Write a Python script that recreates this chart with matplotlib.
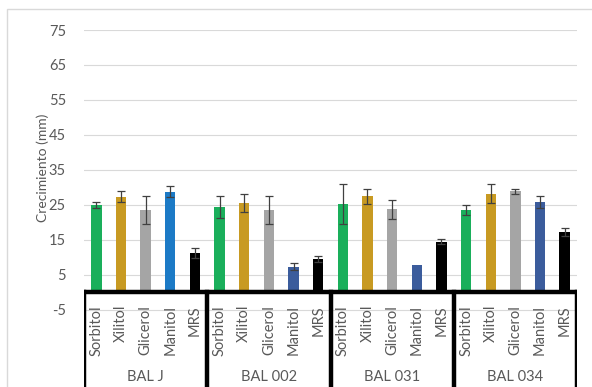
import matplotlib.pyplot as plt
from matplotlib.patches import Rectangle
import numpy as np

plt.rcParams['font.family'] = ['Lato', 'DejaVu Sans']

groups = ['BAL J', 'BAL 002', 'BAL 031', 'BAL 034']
items = ['Sorbitol', 'Xilitol', 'Glicerol', 'Manitol', 'MRS']

# growth (mm) per group, in item order
values = [
    [25.0, 27.3, 23.4, 28.7, 11.2],
    [24.4, 25.4, 23.4, 7.3, 9.4],
    [25.3, 27.4, 23.7, 7.9, 14.4],
    [23.5, 28.2, 28.9, 25.8, 17.2],
]
errors = [
    [0.8, 1.6, 4.0, 1.6, 1.4],
    [3.1, 2.6, 4.0, 1.1, 0.8],
    [5.7, 2.2, 2.8, 0.0, 0.7],
    [1.4, 2.8, 0.7, 1.7, 1.2],
]
yticks = [-5, 5, 15, 25, 35, 45, 55, 65, 75]
ytick_labels = ['-5', '5', '15', '25', '35', '45', '55', '65', '75']

colors = {
    'Sorbitol': '#1aaf5b',
    'Xilitol': '#c89a22',
    'Glicerol': '#a5a5a5',
    'Manitol': '#3b5c9c',
    'MRS': '#000000',
}
manitol_first = '#1c7ac6'

W, H = 592, 387
fig = plt.figure(figsize=(W / 100, H / 100), dpi=100)
fig.patch.set_facecolor('white')

# light chart frame
fig.patches.append(Rectangle((7 / W, -0.1), 1.2, 1 - 9 / H + 0.1, transform=fig.transFigure,
                             fill=False, edgecolor='#d9d9d9', lw=1.0))

y_top_px, y_zero_px = 30, 292
px_per_unit = 3.5
ybot = -(H - y_zero_px) / px_per_unit
ax = fig.add_axes([84 / W, 0, (577 - 84) / W, (H - y_top_px) / H])
ax.set_xlim(-0.5, 19.5)
ax.set_ylim(ybot, 75)
for s in ax.spines.values():
    s.set_visible(False)
ax.set_xticks([])
ax.set_yticks(yticks)
ax.set_yticklabels(ytick_labels)
ax.tick_params(axis='y', length=0, labelsize=10.5, labelcolor='#595959', pad=13)
ax.grid(axis='y', color='#d9d9d9', lw=0.8)
ax.set_axisbelow(True)

for g, grp in enumerate(groups):
    for i, it in enumerate(items):
        x = g * 5 + i
        c = colors[it]
        if it == 'Manitol' and g == 0:
            c = manitol_first
        ax.bar(x, values[g][i], width=0.42, color=c, zorder=2)
        if errors[g][i] > 0:
            ax.errorbar(x, values[g][i], yerr=errors[g][i], fmt='none',
                        ecolor='#404040', elinewidth=0.9, capsize=3, capthick=0.9, zorder=3)
        ax.text(x, -3.7, it, rotation=90, ha='center', va='top', fontsize=10.5, color='#595959')
    ax.text(g * 5 + 2, -24.3, grp, ha='center', va='center', fontsize=10.5, color='#595959')

# multi-level category axis lines
ax.plot([-0.5, 19.5], [0, 0], color='black', lw=3.2, zorder=4, solid_capstyle='projecting')
for xb in [-0.5, 4.5, 9.5, 14.5, 19.5]:
    ax.plot([xb, xb], [0, ybot], color='black', lw=3.2, zorder=4)

fig.text(43 / W, 1 - 168 / H, 'Crecimiento (mm)', rotation=90, ha='center', va='center',
         fontsize=10, color='#595959')

fig.savefig('out.png', dpi=100)
